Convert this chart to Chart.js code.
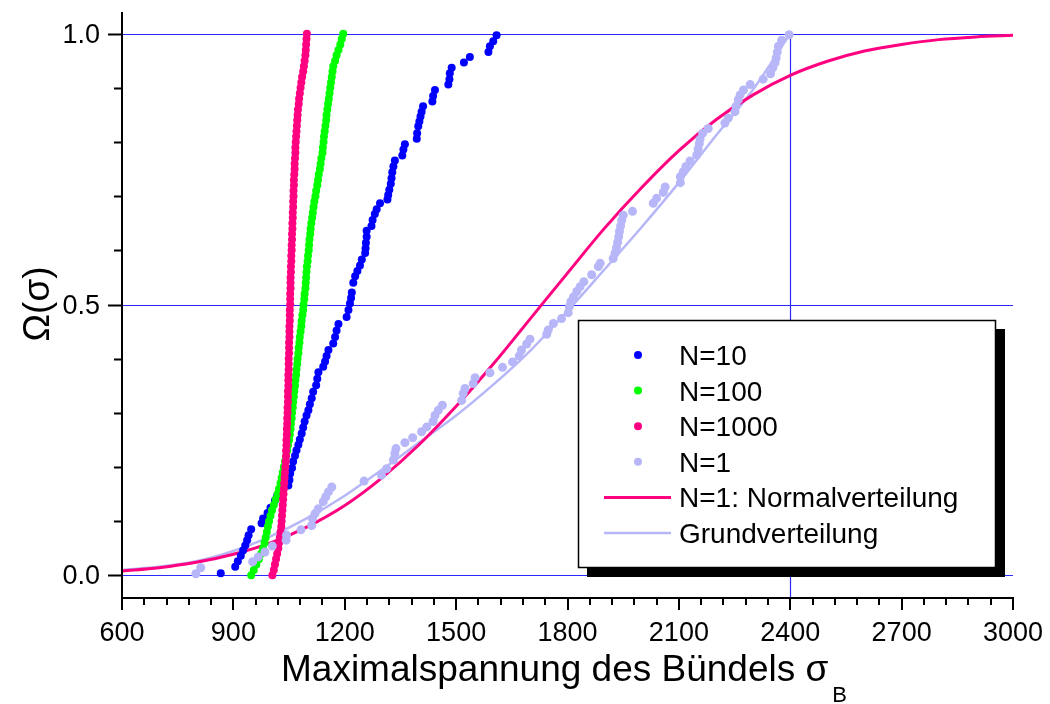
<!DOCTYPE html>
<html><head><meta charset="utf-8">
<script src="https://cdn.jsdelivr.net/npm/chart.js@4"></script>
<style>html,body{margin:0;padding:0;background:#fff}#wrap{width:1050px;height:704px}</style>
</head><body><div id="wrap"><canvas id="c" width="1050" height="704"></canvas></div>
<script>
// ---------- data ----------
const ranks = [0.00,0.01,0.02,0.03,0.04,0.05,0.06,0.07,0.08,0.09,
  0.10,0.11,0.12,0.13,0.14,0.15,0.16,0.17,0.18,0.19,
  0.20,0.21,0.22,0.23,0.24,0.25,0.26,0.27,0.28,0.29,
  0.30,0.31,0.32,0.33,0.34,0.35,0.36,0.37,0.38,0.39,
  0.40,0.41,0.42,0.43,0.44,0.45,0.46,0.47,0.48,0.49,
  0.50,0.51,0.52,0.53,0.54,0.55,0.56,0.57,0.58,0.59,
  0.60,0.61,0.62,0.63,0.64,0.65,0.66,0.67,0.68,0.69,
  0.70,0.71,0.72,0.73,0.74,0.75,0.76,0.77,0.78,0.79,
  0.80,0.81,0.82,0.83,0.84,0.85,0.86,0.87,0.88,0.89,
  0.90,0.91,0.92,0.93,0.94,0.95,0.96,0.97,0.98,0.99,1.00];
const n1000X = [1005,1009,1012,1015,1018,1021,1023,1025,1027,1029,
  1030,1031,1032,1033,1034,1035,1036,1037,1038,1039,
  1040,1041,1042,1042,1043,1043,1044,1044,1045,1045,
  1046,1046,1047,1047,1047,1048,1048,1048,1049,1049,
  1049,1050,1050,1050,1051,1051,1051,1052,1052,1052,
  1053,1053,1053,1054,1054,1054,1055,1055,1056,1056,
  1057,1057,1058,1058,1059,1059,1060,1060,1061,1061,
  1062,1062,1063,1063,1064,1065,1065,1066,1067,1067,
  1068,1069,1070,1071,1072,1073,1074,1076,1077,1079,
  1081,1083,1085,1088,1090,1092,1094,1095,1096,1097,1098];
const n100X = [948,955,962,969,975,980,984,987,990,993,
  996,1000,1004,1009,1014,1019,1023,1027,1030,1033,
  1036,1039,1042,1045,1047,1050,1052,1054,1055,1057,
  1058,1060,1061,1063,1064,1066,1067,1069,1070,1072,
  1073,1075,1076,1078,1079,1081,1083,1084,1086,1088,
  1089,1091,1092,1094,1095,1096,1097,1098,1100,1101,
  1103,1104,1105,1107,1108,1110,1112,1114,1116,1118,
  1121,1123,1126,1128,1130,1133,1135,1137,1140,1141,
  1143,1144,1146,1148,1150,1151,1153,1155,1157,1159,
  1161,1163,1165,1167,1169,1174,1178,1183,1188,1192,1196];
const n10X = [866,905,912,920,926,932,937,941,948,976,980,992,1000,1012,1018,1026,1048,1051,1053,1058,
  1061,1066,1070,1075,1079,1084,1088,1092,1097,1102,1106,1111,1115,1123,1126,1129,1142,1147,1151,1156,
  1169,1174,1178,1183,1205,1210,1214,1217,1219,1223,1228,1234,1241,1246,1255,1256,1257,1259,1259,1272,
  1275,1281,1286,1295,1315,1317,1320,1324,1326,1328,1331,1335,1355,1358,1362,1394,1395,1398,1401,1404,
  1407,1411,1436,1438,1443,1479,1482,1483,1488,1521,1537,1587,1591,1600,1609];
const n10Y = [0.004,0.016,0.026,0.036,0.046,0.055,0.065,0.074,0.085,0.096,0.105,0.115,0.125,0.138,0.147,0.157,0.166,0.176,0.188,0.198,
  0.210,0.221,0.231,0.241,0.251,0.262,0.273,0.284,0.295,0.305,0.316,0.327,0.339,0.351,0.363,0.375,0.385,0.395,0.405,0.416,
  0.428,0.440,0.452,0.464,0.477,0.490,0.502,0.512,0.522,0.540,0.552,0.562,0.572,0.583,0.595,0.604,0.614,0.625,0.636,0.645,
  0.656,0.667,0.676,0.687,0.694,0.702,0.712,0.723,0.733,0.744,0.755,0.766,0.775,0.786,0.796,0.806,0.816,0.829,0.838,0.847,
  0.856,0.866,0.875,0.885,0.896,0.906,0.916,0.927,0.937,0.947,0.957,0.966,0.977,0.986,0.997];
const n1X = [799,812,952,967,985,1005,1042,1043,1082,1111,1113,1120,1129,1142,1149,1156,1165,1252,1299,1313,
  1331,1335,1338,1362,1383,1407,1421,1438,1443,1452,1463,1515,1519,1524,1546,1551,1591,1625,1652,1670,
  1676,1690,1699,1744,1748,1762,1784,1802,1805,1809,1816,1825,1834,1844,1865,1883,1888,1923,1928,1932,
  1935,1938,1940,1943,1946,1950,1975,2031,2040,2058,2063,2104,2104,2112,2119,2130,2148,2152,2155,2157,
  2164,2179,2224,2233,2251,2254,2260,2265,2274,2292,2327,2347,2353,2359,2362,2365,2368,2377,2397];
const n1Y = [0.003,0.014,0.025,0.034,0.043,0.054,0.065,0.074,0.084,0.092,0.105,0.114,0.123,0.136,0.145,0.154,0.163,0.174,0.185,0.197,
  0.213,0.225,0.234,0.245,0.254,0.265,0.274,0.284,0.295,0.305,0.314,0.323,0.336,0.345,0.354,0.365,0.374,0.384,0.394,0.405,
  0.416,0.427,0.436,0.445,0.453,0.465,0.474,0.485,0.496,0.505,0.514,0.524,0.533,0.542,0.555,0.570,0.576,0.585,0.595,0.605,
  0.615,0.625,0.635,0.645,0.655,0.665,0.672,0.687,0.696,0.707,0.717,0.725,0.736,0.745,0.755,0.765,0.776,0.787,0.797,0.805,
  0.816,0.825,0.835,0.844,0.856,0.866,0.878,0.887,0.896,0.906,0.916,0.926,0.937,0.946,0.955,0.966,0.977,0.988,0.998];
const normX = [600,700,800,900,1000,1100,1200,1300,1400,1500,1600,1700,1800,1900,2000,2100,2200,2300,2400,2500,2600,2700,2800,2900,3000];
const normY = [0.008,0.014,0.024,0.039,0.060,0.090,0.129,0.180,0.241,0.312,0.390,0.474,0.558,0.641,0.716,0.784,0.841,0.887,0.923,0.949,0.968,0.980,0.989,0.994,0.997];
const grundX = [600,700,800,900,1000,1100,1200,1300,1400,1500,1600,1700,1800,1900,2000,2100,2200,2300,2400];
const grundY = [0.010,0.016,0.026,0.045,0.072,0.106,0.147,0.195,0.245,0.295,0.352,0.415,0.488,0.565,0.643,0.725,0.812,0.897,1.000];
const xTickLabels = [600,900,1200,1500,1800,2100,2400,2700,3000];
const yTickLabels = [0.0,0.5,1.0];
const seriesNames = ['N=10','N=100','N=1000','N=1','N=1: Normalverteilung','Grundverteilung'];

const C_BLUE='#0000ff', C_GREEN='#00ff00', C_PINK='#ff0080', C_LAV='#b6b6f8', C_GRID='#2a2aff';
const FONT='"Liberation Sans", Arial, sans-serif';
const pts = (xs, ys) => xs.map((x,i)=>({x, y: ys[i]}));

const deco = {
  id:'deco',
  beforeDatasetsDraw(chart){
    const {ctx, chartArea:a, scales:{x,y}} = chart;
    ctx.save();
    ctx.strokeStyle = C_GRID; ctx.lineWidth = 1.2;
    yTickLabels.forEach(v=>{
      const py = Math.round(y.getPixelForValue(v))+0.5;
      ctx.beginPath(); ctx.moveTo(a.left, py); ctx.lineTo(a.right, py); ctx.stroke();
    });
    const px = Math.round(x.getPixelForValue(2400))+0.5;
    ctx.beginPath(); ctx.moveTo(px, y.getPixelForValue(1)); ctx.lineTo(px, a.bottom); ctx.stroke();
    ctx.restore();
  },
  afterDraw(chart){
    const {ctx, chartArea:a, scales:{x,y}} = chart;
    ctx.save();
    // axes
    ctx.strokeStyle='#000'; ctx.lineWidth=2;
    ctx.beginPath(); ctx.moveTo(a.left, a.top); ctx.lineTo(a.left, a.bottom+1); ctx.lineTo(a.right, a.bottom+1); ctx.stroke();
    // y ticks
    for (let k=0;k<=10;k++){
      const v=k/10, py=Math.round(y.getPixelForValue(v))+0.5;
      const len = (k%5===0)?14:8;
      ctx.beginPath(); ctx.moveTo(a.left-len, py); ctx.lineTo(a.left, py); ctx.stroke();
    }
    // x ticks
    for (let v=600; v<=3000; v+=60){
      const px=Math.round(x.getPixelForValue(v));
      const len = ((v-600)%300===0)?13:8;
      ctx.beginPath(); ctx.moveTo(px, a.bottom); ctx.lineTo(px, a.bottom+len); ctx.stroke();
    }
    // tick labels
    ctx.fillStyle='#000'; ctx.font='27px '+FONT; ctx.textBaseline='alphabetic';
    ctx.textAlign='right';
    yTickLabels.forEach(v=>{ ctx.fillText(v.toFixed(1), 100, y.getPixelForValue(v)+9); });
    ctx.textAlign='center';
    xTickLabels.forEach(v=>{ ctx.fillText(String(v), x.getPixelForValue(v), 641); });
    // axis titles
    ctx.font='37px '+FONT; ctx.textBaseline='alphabetic'; ctx.textAlign='left';
    const t='Maximalspannung des Bündels σ';
    ctx.fillText(t, 281, 681);
    const w=ctx.measureText(t).width;
    ctx.font='22px '+FONT; ctx.fillText('B', 281+w+4, 702);
    ctx.save();
    ctx.translate(49, 304); ctx.rotate(-Math.PI/2);
    ctx.font='37px '+FONT; ctx.textAlign='center'; ctx.textBaseline='alphabetic';
    ctx.fillText('Ω(σ)', 0, 0);
    ctx.restore();
    // legend
    ctx.fillStyle='#000'; ctx.fillRect(587,329,418,248);
    ctx.fillStyle='#fff'; ctx.fillRect(578.5,320.5,417,247);
    ctx.strokeStyle='#000'; ctx.lineWidth=1.5; ctx.strokeRect(578.5,320.5,417,247);
    const cols=[C_BLUE,C_GREEN,C_PINK,C_LAV,C_PINK,C_LAV];
    seriesNames.forEach((name,i)=>{
      const cy=355+35.6*i;
      if(i<4){
        ctx.fillStyle=cols[i]; ctx.beginPath(); ctx.arc(638,cy,4,0,Math.PI*2); ctx.fill();
      } else {
        ctx.strokeStyle=cols[i]; ctx.lineWidth=(i===4)?3:2.5;
        ctx.beginPath(); ctx.moveTo(604,cy); ctx.lineTo(671,cy); ctx.stroke();
      }
      ctx.fillStyle='#000'; ctx.font='28px '+FONT; ctx.textAlign='left'; ctx.textBaseline='alphabetic';
      ctx.fillText(name, 679, cy+10);
    });
    ctx.restore();
  }
};

new Chart(document.getElementById('c'), {
  type:'scatter',
  data:{datasets:[
    {label:seriesNames[0], data:pts(n10X,n10Y), backgroundColor:C_BLUE, pointRadius:4, borderWidth:0, order:4},
    {label:seriesNames[1], data:pts(n100X,ranks), backgroundColor:C_GREEN, pointRadius:4, borderWidth:0, order:3},
    {label:seriesNames[2], data:pts(n1000X,ranks), backgroundColor:C_PINK, pointRadius:4, borderWidth:0, order:2},
    {label:seriesNames[3], data:pts(n1X,n1Y), backgroundColor:C_LAV, pointRadius:4.5, borderWidth:0, order:1},
    {label:seriesNames[4], data:pts(normX,normY), showLine:true, borderColor:C_PINK, borderWidth:3, pointRadius:0, cubicInterpolationMode:'monotone', order:5},
    {label:seriesNames[5], data:pts(grundX,grundY), showLine:true, borderColor:C_LAV, borderWidth:2.5, pointRadius:0, cubicInterpolationMode:'monotone', order:6}
  ]},
  options:{
    responsive:false, animation:false, devicePixelRatio:1,
    layout:{padding:{left:0,right:37,top:12,bottom:0}},
    plugins:{legend:{display:false}, tooltip:{enabled:false}},
    scales:{
      x:{type:'linear', position:'bottom', min:600, max:3000,
        afterBuildTicks:s=>{s.ticks=xTickLabels.map(v=>({value:v}));},
        afterFit:s=>{s.height=107; s.paddingLeft=0; s.paddingRight=0;},
        grid:{display:false, drawTicks:false}, border:{display:false},
        ticks:{display:false}},
      y:{type:'linear', min:-0.04, max:1.04,
        afterBuildTicks:s=>{s.ticks=yTickLabels.map(v=>({value:v}));},
        afterFit:s=>{s.width=122; s.paddingTop=0; s.paddingBottom=0;},
        grid:{display:false, drawTicks:false}, border:{display:false},
        ticks:{display:false}}
    }
  },
  plugins:[deco]
});
</script></body></html>
